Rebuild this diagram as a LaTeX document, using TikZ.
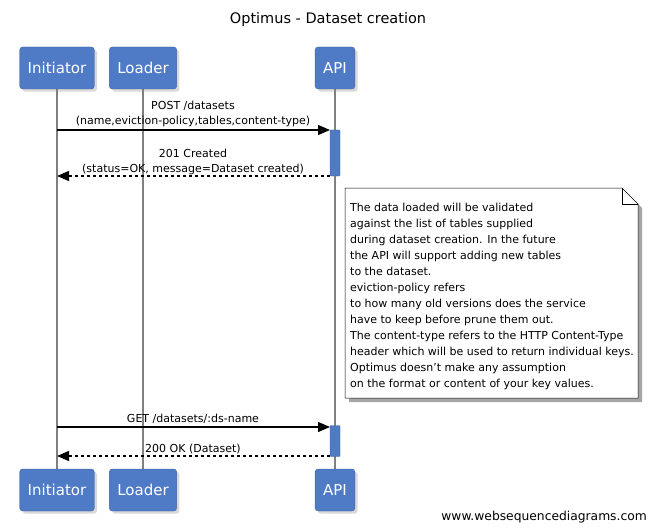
\documentclass[tikz,border=0pt]{standalone}
\usepackage{fontspec}
\setmainfont{DejaVu Sans}
\usetikzlibrary{arrows.meta,shadows,backgrounds}
\definecolor{actorblue}{HTML}{4F7BC6}
\tikzset{actor/.style={rounded corners=3pt,fill=actorblue,draw=actorblue!80!black,text=white,
    minimum height=42pt,inner xsep=8pt,font=\fontsize{15}{15}\selectfont,drop shadow={opacity=0.3}},
  life/.style={gray,line width=1.2pt},
  act/.style={fill=actorblue,draw=actorblue!80!black,rounded corners=1pt,minimum width=10pt,inner sep=0pt,outer sep=0pt},
  call/.style={line width=1.3pt,-{Triangle[length=12pt,width=10pt]}},
  reply/.style={call,dashed},
  lab/.style={font=\fontsize{11}{11}\selectfont,inner sep=0pt}}
\begin{document}
\begin{tikzpicture}[x=1pt,y=-1pt]
\useasboundingbox (0,0) rectangle (656,532);
\node[font=\fontsize{14.5}{14.5}\selectfont] (title) at (328,20) {Optimus - Dataset creation};
% participants
\node[actor] (iniT) at (57,68) {Initiator};
\node[actor] (loaT) at (143,68) {Loader};
\node[actor] (apiT) at (335,68) {API};
\node[actor] (iniB) at (57,490) {Initiator};
\node[actor] (loaB) at (143,490) {Loader};
\node[actor] (apiB) at (335,490) {API};
\begin{scope}[on background layer]
\draw[life] (iniT) -- (iniB);
\draw[life] (loaT) -- (loaB);
\draw[life] (apiT) -- (apiB);
\end{scope}
% activations
\node[act,minimum height=46pt] (act1) at (335,153) {};
\node[act,minimum height=31pt] (act2) at (335,441) {};
\coordinate (i1) at (57,130); \coordinate (i2) at (57,176);
\coordinate (i3) at (57,427); \coordinate (i4) at (57,456);
\draw[call] (i1) -- (act1.west |- i1);
\draw[reply] (act1.west |- i2) -- (i2);
\draw[call] (i3) -- (act2.west |- i3);
\draw[reply] (act2.west |- i4) -- (i4);
\node[lab] (m1) at (193,106) {POST /datasets};
\node[lab] (m1b) at (193,121) {(name,eviction-policy,tables,content-type)};
\node[lab] (m2) at (193,153) {201 Created};
\node[lab] (m2b) at (193,169) {(status=OK, message=Dataset created)};
\node[lab] (m3) at (193,419) {GET /datasets/:ds-name};
\node[lab] (m4) at (193,449) {200 OK (Dataset)};
% note
\fill[black!35] (349,192) -- (626,192) -- (642,208) -- (642,402) -- (349,402) -- cycle;
\draw[fill=white,line width=0.5pt] (345,188) -- (622,188) -- (638,204) -- (638,398) -- (345,398) -- cycle;
\draw[line width=0.5pt] (622,188) -- (622,204) -- (638,204);
\node[lab,anchor=north west,align=left,font=\fontsize{11}{16}\selectfont] (note) at (350,203)
{The data loaded will be validated\\against the list of tables supplied\\during dataset creation. In the future\\the API will support adding new tables\\to the dataset.\\eviction-policy refers\\to how many old versions does the service\\have to keep before prune them out.\\The content-type refers to the HTTP Content-Type\\header which will be used to return individual keys.\\Optimus doesn't make any assumption\\on the format or content of your key values.};
\node[lab,anchor=east,font=\fontsize{12.3}{12.3}\selectfont] (foot) at (647,517) {www.websequencediagrams.com};
\end{tikzpicture}
\end{document}
